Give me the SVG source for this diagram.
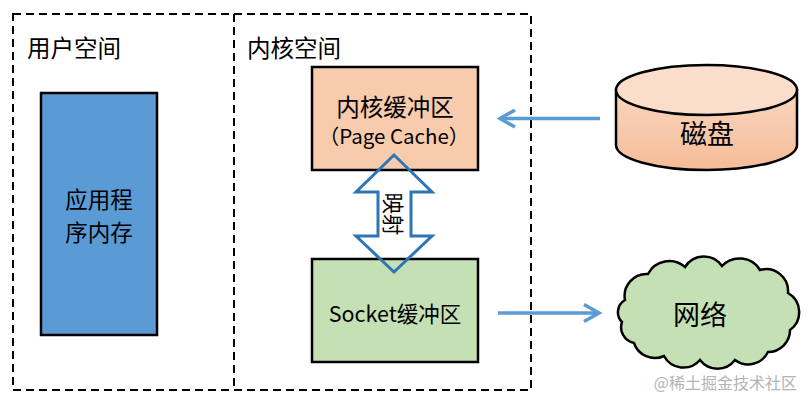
<svg xmlns="http://www.w3.org/2000/svg" width="812" height="405" viewBox="0 0 812 405">
<style>
text{font-family:"Noto Sans CJK SC","Noto Sans",sans-serif;fill:#000;}
.c{text-anchor:middle;dominant-baseline:central;}
.lbl{font-size:23.5px;}
.box{stroke:#000;stroke-width:2.5;}
.flow{stroke:#5B9BD5;stroke-width:3.5;fill:none;}
</style>
<defs>
<marker id="chev" viewBox="0 0 20 20" refX="16" refY="10" markerWidth="20" markerHeight="20" markerUnits="userSpaceOnUse" orient="auto">
<path d="M1,1.5 L16,10 L1,18.5" fill="none" stroke="#5B9BD5" stroke-width="3.5"/>
</marker>
<linearGradient id="diskg" x1="0" y1="0" x2="0" y2="1">
<stop offset="0" stop-color="#F9D6BF"/>
<stop offset="1" stop-color="#F5BC98"/>
</linearGradient>
</defs>
<rect width="812" height="405" fill="#fff"/>

<g id="spaces">
<rect x="13" y="14" width="518" height="376" fill="none" stroke="#000" stroke-width="2" stroke-dasharray="8,5"/>
<line x1="234" y1="14" x2="234" y2="390" stroke="#000" stroke-width="2" stroke-dasharray="8,5"/>
<text x="27" y="47" class="lbl" dominant-baseline="central">用户空间</text>
<text x="247" y="47" class="lbl" dominant-baseline="central">内核空间</text>
</g>

<g id="app-memory">
<rect x="41" y="93" width="116" height="242" fill="#5B9BD5" class="box"/>
<text class="c" font-size="22.5"><tspan x="99" y="197.5">应用程</tspan><tspan x="99" y="230.5">序内存</tspan></text>
</g>

<g id="page-cache">
<rect x="312" y="67" width="166" height="103" fill="#F8CBAD" class="box"/>
<text x="395" y="106" class="c lbl">内核缓冲区</text>
<text x="394" y="135" class="c" font-size="20.5">（Page Cache）</text>
</g>

<g id="socket-buffer">
<rect x="312" y="259" width="166" height="103" fill="#C5E0B4" class="box"/>
<text x="395" y="312" class="c" font-size="21.5">Socket缓冲区</text>
</g>

<g id="disk">
<path d="M616,90 L616,145 A90.5,25 0 0 0 797,145 L797,90 Z" fill="url(#diskg)" class="box"/>
<ellipse cx="706.5" cy="90" rx="90.5" ry="25" fill="#FADDCA" class="box"/>
<text x="707" y="132" class="c" font-size="27">磁盘</text>
</g>

<g id="network">
<path d="M625,300 A22,22 0 0 1 648,274 A24,24 0 0 1 685,267 A22,22 0 0 1 722,266 A24,24 0 0 1 760,270 A22,22 0 0 1 788,293 A22,22 0 0 1 790,330 A22,22 0 0 1 768,352 A22,22 0 0 1 735,360 A22,22 0 0 1 700,360 A22,22 0 0 1 664,356 A22,22 0 0 1 634,343 A16,16 0 0 1 622,322 A14,14 0 0 1 625,300 Z" fill="#C5E0B4" class="box"/>
<text x="700" y="313" class="c" font-size="27">网络</text>
</g>

<g id="connectors">
<line x1="600" y1="118.5" x2="500" y2="118.5" class="flow" marker-end="url(#chev)"/>
<line x1="498" y1="313" x2="599" y2="313" class="flow" marker-end="url(#chev)"/>
<polygon points="394,155 432,192 411,192 411,236 432,236 394,272 356,236 378,236 378,192 356,192" fill="none" stroke="#2E75B6" stroke-width="3" stroke-linejoin="miter"/>
<text class="c" font-size="21.5" transform="translate(394.5,214) rotate(90)">映射</text>
</g>

<text x="797" y="382" text-anchor="end" dominant-baseline="central" font-size="16" style="fill:#b4b4b4">@稀土掘金技术社区</text>
</svg>
